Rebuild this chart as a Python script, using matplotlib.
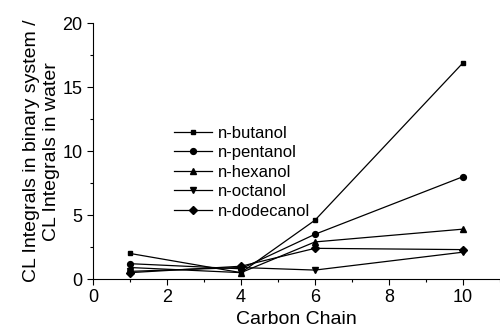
import matplotlib.pyplot as plt

plt.rcParams['font.family'] = ['Liberation Sans', 'DejaVu Sans']

# carbon chain length of the solvent system
carbon = [1, 4, 6, 10]

butanol = [2.0, 0.5, 4.6, 16.9]
pentanol = [1.2, 0.8, 3.5, 8.0]
hexanol = [0.9, 0.5, 2.9, 3.9]
octanol = [0.6, 0.9, 0.7, 2.1]
dodecanol = [0.5, 1.0, 2.4, 2.3]

labels = ["n-butanol", "n-pentanol", "n-hexanol", "n-octanol", "n-dodecanol"]
markers = ["s", "o", "^", "v", "D"]
sizes = [3.5, 4.2, 4.5, 4.5, 4.2]

fig = plt.figure(figsize=(5, 3.31), dpi=100)
ax = fig.add_axes([0.186, 0.157, 0.814, 0.773])

for y, lab, m, s in zip([butanol, pentanol, hexanol, octanol, dodecanol], labels, markers, sizes):
    ax.plot(carbon, y, color="black", lw=0.9, marker=m, markersize=s, label=lab)

ax.set_xlim(0, 11)
ax.set_ylim(0, 20)
ax.set_xticks([0, 2, 4, 6, 8, 10])
ax.set_xticks([1, 3, 5, 7, 9, 11], minor=True)
ax.set_yticks([0, 5, 10, 15, 20])
ax.set_yticks([2.5, 7.5, 12.5, 17.5], minor=True)
ax.tick_params(labelsize=13, direction="out", length=4, width=0.8)
ax.tick_params(which="minor", direction="out", length=2.5, width=0.8)
ax.spines["top"].set_visible(False)
ax.spines["right"].set_visible(False)

ax.set_xlabel("Carbon Chain", fontsize=14, labelpad=3)
ax.set_ylabel("CL Integrals in binary system /\nCL Integrals in water", fontsize=14, labelpad=2)

ax.legend(loc="upper left", bbox_to_anchor=(0.17, 0.645), frameon=False, fontsize=12,
          handlelength=2.3, handletextpad=0.35, labelspacing=0.27, borderpad=0.2)

plt.savefig("out.png")
